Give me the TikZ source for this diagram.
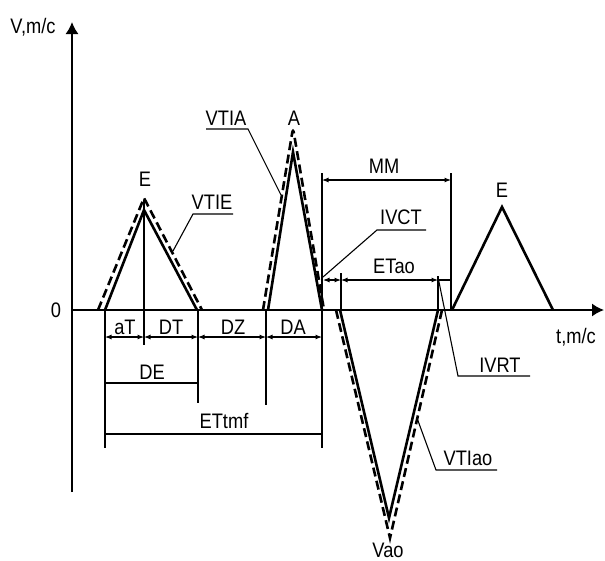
\documentclass[tikz,border=0pt]{standalone}
\usepackage{fontspec}
\setmainfont{Liberation Sans}[FakeStretch=0.87]
\usetikzlibrary{arrows.meta}
\begin{document}
\begin{tikzpicture}[x=1pt,y=-1pt,
  curve/.style={line width=2.6pt, line join=miter},
  dashcurve/.style={line width=2.6pt, dash pattern=on 9pt off 4.5pt},
  thinline/.style={line width=1.1pt},
  lbl/.style={inner sep=0pt, anchor=base, font=\fontsize{21}{25}\selectfont},
  dimarrow/.style={line width=1.1pt, {Latex[length=6.5pt,width=5pt]}-{Latex[length=6.5pt,width=5pt]}},
  axisline/.style={line width=1.7pt, -{Latex[length=12pt,width=13pt]}}]
\useasboundingbox (0,0) rectangle (605,560);

% axes
\coordinate (yb) at (72,492); \coordinate (yt) at (72,22);
\coordinate (xl) at (72,310); \coordinate (xr) at (604,310);
\draw[axisline] (yb) -- (yt);
\draw[axisline] (xl) -- (xr);
\node[lbl] (vlab) at (33,33) {V,m/c};
\node[lbl] (zero) at (56,317) {0};
\node[lbl] (tlab) at (576,343) {t,m/c};

% first E wave
\coordinate (e1a) at (105,310); \coordinate (e1p) at (144,210); \coordinate (e1b) at (197,310);
\coordinate (e1da) at (98,310); \coordinate (e1dp) at (144,198); \coordinate (e1db) at (202,310);
\draw[curve] (e1a) -- (e1p) -- (e1b);
\draw[dashcurve] (e1da) -- (e1dp) -- (e1db);
\node[lbl] (E1) at (145,186) {E};

% A wave
\coordinate (aa) at (268,310); \coordinate (ap) at (293,152); \coordinate (ab) at (322,310);
\coordinate (ada) at (263,310); \coordinate (adp) at (293,128); \coordinate (adb) at (324,310);
\draw[curve] (aa) -- (ap) -- (ab);
\draw[dashcurve, rounded corners=5pt] (ada) -- (adp) -- (adb);
\node[lbl] (A) at (294,125) {A};

% Vao wave
\coordinate (va) at (340,310); \coordinate (vp) at (389,518); \coordinate (vb) at (438,310);
\coordinate (vda) at (336,310); \coordinate (vdp) at (390,538); \coordinate (vdb) at (442,310);
\draw[curve] (va) -- (vp) -- (vb);
\draw[dashcurve] (vda) -- (vdp) -- (vdb);
\node[lbl] (Vao) at (388,557) {Vao};

% second E wave
\coordinate (e2a) at (452,310); \coordinate (e2p) at (502,207); \coordinate (e2b) at (553,310);
\draw[curve] (e2a) -- (e2p) -- (e2b);
\node[lbl] (E2) at (502,197) {E};

% leader labels
\node[lbl] (vtie) at (212,209) {VTIE};
\coordinate (vtie1) at (233,214); \coordinate (vtie2) at (193,214); \coordinate (vtie3) at (173,251);
\draw[thinline] (vtie1) -- (vtie2) -- (vtie3);

\node[lbl] (vtia) at (226,125) {VTIA};
\coordinate (vtia1) at (206,129); \coordinate (vtia2) at (248,129); \coordinate (vtia3) at (281,195);
\draw[thinline] (vtia1) -- (vtia2) -- (vtia3);

\node[lbl] (ivct) at (401,224) {IVCT};
\coordinate (ivct1) at (426,230); \coordinate (ivct2) at (377,230); \coordinate (ivct3) at (323,277);
\draw[thinline] (ivct1) -- (ivct2) -- (ivct3);

\node[lbl] (ivrt) at (500,372) {IVRT};
\coordinate (ivrt1) at (530,376); \coordinate (ivrt2) at (458,376); \coordinate (ivrt3) at (438,277);
\draw[thinline] (ivrt1) -- (ivrt2) -- (ivrt3);

\node[lbl] (vtiao) at (468,465) {VTIao};
\coordinate (vtiao1) at (497,470); \coordinate (vtiao2) at (436,470); \coordinate (vtiao3) at (417,418);
\draw[thinline] (vtiao1) -- (vtiao2) -- (vtiao3);

% extension lines
\coordinate (x105t) at (105,310); \coordinate (x105b) at (105,448);
\coordinate (x144t) at (144,200); \coordinate (x144b) at (144,345);
\coordinate (x198t) at (198,310); \coordinate (x198b) at (198,403);
\coordinate (x266t) at (266,310); \coordinate (x266b) at (266,405);
\coordinate (x322t) at (322,173); \coordinate (x322b) at (322,448);
\coordinate (x451t) at (451,173); \coordinate (x451b) at (451,310);
\coordinate (x341t) at (341,273); \coordinate (x341b) at (341,310);
\coordinate (x438t) at (438,276); \coordinate (x438b) at (438,310);
\coordinate (x438h) at (438,280); \coordinate (x451h) at (451,280);
\foreach \p in {105,144,198,266,322,451,341,438}
  \draw[thinline] (x\p t) -- (x\p b);
\draw[thinline] (x438h) -- (x451h);

% dimension arrows
\coordinate (d1) at (105,337); \coordinate (d2) at (144,337);
\coordinate (d3) at (198,337); \coordinate (d4) at (266,337); \coordinate (d5) at (322,337);
\draw[dimarrow] (d1) -- (d2);
\draw[dimarrow] (d2) -- (d3);
\draw[dimarrow] (d3) -- (d4);
\draw[dimarrow] (d4) -- (d5);
\node[lbl] (aT) at (125,334) {aT};
\node[lbl] (DT) at (171,334) {DT};
\node[lbl] (DZ) at (233,334) {DZ};
\node[lbl] (DA) at (293,334) {DA};

\coordinate (de1) at (105,383); \coordinate (de2) at (198,383);
\draw[thinline] (de1) -- (de2);
\node[lbl] (DE) at (152,379) {DE};

\coordinate (et1) at (105,434); \coordinate (et2) at (322,434);
\draw[thinline] (et1) -- (et2);
\node[lbl] (ETtmf) at (224,428) {ETtmf};

\coordinate (mm1) at (322,180); \coordinate (mm2) at (451,180);
\draw[dimarrow] (mm1) -- (mm2);
\node[lbl] (MM) at (384,173) {MM};

\coordinate (ea0) at (323,280); \coordinate (ea1) at (341,280); \coordinate (ea2) at (438,280);
\draw[dimarrow] (ea0) -- (ea1);
\draw[dimarrow] (ea1) -- (ea2);
\node[lbl] (ETao) at (394,273) {ETao};
\end{tikzpicture}
\end{document}
